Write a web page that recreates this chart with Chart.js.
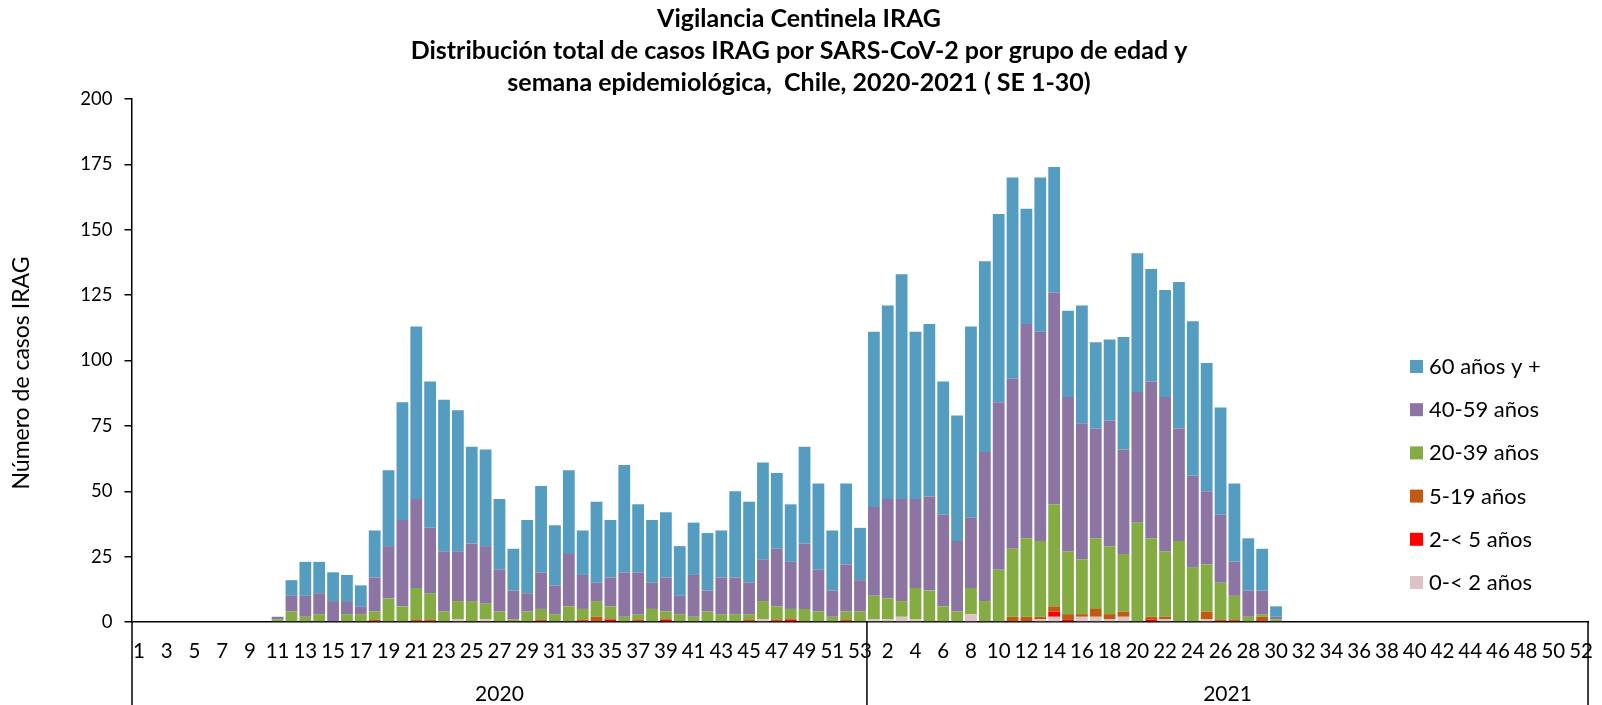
<!DOCTYPE html>
<html>
<head>
<meta charset="utf-8">
<script src="https://cdn.jsdelivr.net/npm/chart.js@4/dist/chart.umd.min.js"></script>
<style>
  body { margin: 0; background: #fff; }
  #wrap { width: 1602px; height: 705px; }
</style>
</head>
<body>
<div id="wrap"><canvas id="c" width="1602" height="705"></canvas></div>
<script>
// epidemiological weeks, 2020 has 53 and 2021 has 52
const weeks2020 = [1,2,3,4,5,6,7,8,9,10,11,12,13,14,15,16,17,18,19,20,21,22,23,24,25,26,27,
  28,29,30,31,32,33,34,35,36,37,38,39,40,41,42,43,44,45,46,47,48,49,50,51,52,53];
const weeks2021 = [1,2,3,4,5,6,7,8,9,10,11,12,13,14,15,16,17,18,19,20,21,22,23,24,25,26,
  27,28,29,30,31,32,33,34,35,36,37,38,39,40,41,42,43,44,45,46,47,48,49,50,51,52];
const years = ['2020', '2021'];

const seriesNames = ['0-< 2 años', '2-< 5 años', '5-19 años', '20-39 años', '40-59 años', '60 años y +'];
const seriesColors = ['#DFC2C3', '#FF0000', '#C05A12', '#85AB43', '#8C74A3', '#559DC0'];

// 2020: weeks 1..53
const a0_2_2020   = [0,0,0,0,0,0,0,0,0,0, 0,0,0,0,0,0,0,0,0,0, 0,0,0,1,0,1,0,0,0,0, 0,0,0,0,0,0,0,0,0,0, 0,0,0,0,0,1,0,0,0,0, 0,0,0];
const a2_5_2020   = [0,0,0,0,0,0,0,0,0,0, 0,0,0,0,0,0,0,0,0,0, 0,0,0,0,0,0,0,0,0,0, 0,0,0,0,1,0,0,0,1,0, 0,0,0,0,0,0,0,1,0,0, 0,0,0];
const a5_19_2020  = [0,0,0,0,0,0,0,0,0,0, 0,0,0,0,0,0,0,1,0,0, 1,1,0,0,0,0,0,0,0,1, 0,0,1,2,0,0,1,0,0,0, 0,0,0,0,1,0,1,0,0,0, 0,1,0];
const a20_39_2020 = [0,0,0,0,0,0,0,0,0,0, 1,4,2,3,0,3,3,3,9,6, 12,10,4,7,8,6,4,1,4,4, 3,6,4,6,5,2,2,5,3,3, 2,4,3,3,2,7,5,4,5,4, 2,3,4];
const a40_59_2020 = [0,0,0,0,0,0,0,0,0,0, 1,6,8,8,8,5,3,13,20,33, 34,25,23,19,22,22,16,11,7,14, 11,20,13,7,11,17,16,10,13,7, 16,8,14,14,12,16,22,18,25,16, 10,18,12];
const a60_2020    = [0,0,0,0,0,0,0,0,0,0, 0,6,13,12,11,10,8,18,29,45, 66,56,58,54,37,37,27,16,28,33, 23,32,17,31,22,41,26,24,25,19, 20,22,18,33,31,37,29,22,37,33, 23,31,20];

// 2021: weeks 1..52
const a0_2_2021   = [1,1,2,1,0,0,0,3,0,0, 0,0,1,2,0,2,2,1,2,0, 0,1,0,0,1,0,0,0,0,0, 0,0,0,0,0,0,0,0,0,0, 0,0,0,0,0,0,0,0,0,0, 0,0];
const a2_5_2021   = [0,0,0,0,0,0,0,0,0,0, 0,0,0,2,1,0,0,0,0,0, 1,0,0,0,0,0,0,0,0,0, 0,0,0,0,0,0,0,0,0,0, 0,0,0,0,0,0,0,0,0,0, 0,0];
const a5_19_2021  = [0,0,0,0,0,0,0,0,0,0, 2,2,1,2,2,1,3,2,2,0, 1,1,0,0,3,1,1,0,2,0, 0,0,0,0,0,0,0,0,0,0, 0,0,0,0,0,0,0,0,0,0, 0,0];
const a20_39_2021 = [9,8,6,12,12,6,4,10,8,20, 26,30,29,39,24,21,27,26,22,38, 30,25,31,21,18,14,9,2,1,1, 0,0,0,0,0,0,0,0,0,0, 0,0,0,0,0,0,0,0,0,0, 0,0];
const a40_59_2021 = [34,38,39,34,36,35,27,27,57,64, 65,82,80,81,59,52,42,48,40,50, 60,59,43,35,28,26,13,10,9,1, 0,0,0,0,0,0,0,0,0,0, 0,0,0,0,0,0,0,0,0,0, 0,0];
const a60_2021    = [67,74,86,64,66,51,48,73,73,72, 77,44,59,48,33,45,33,31,43,53, 43,41,56,59,49,41,30,20,16,4, 0,0,0,0,0,0,0,0,0,0, 0,0,0,0,0,0,0,0,0,0, 0,0];

const yTicks = { min: 0, max: 200, step: 25 };
const yTitle = 'Número de casos IRAG';

const FONT = 'Lato, "Liberation Sans", Arial, sans-serif';

const labels = weeks2020.map(w => '2020-' + w).concat(weeks2021.map(w => '2021-' + w));
const series = [
  a0_2_2020.concat(a0_2_2021),
  a2_5_2020.concat(a2_5_2021),
  a5_19_2020.concat(a5_19_2021),
  a20_39_2020.concat(a20_39_2021),
  a40_59_2020.concat(a40_59_2021),
  a60_2020.concat(a60_2021)
];

// year row, separators, y title and right-hand legend
const extras = {
  id: 'extras',
  afterDraw(chart) {
    const ctx = chart.ctx;
    const a = chart.chartArea;
    const x = chart.scales.x;
    const n = weeks2020.length;
    const sep = (x.getPixelForValue(n - 1) + x.getPixelForValue(n)) / 2;
    ctx.save();
    ctx.strokeStyle = '#000';
    ctx.lineWidth = 1.5;
    [a.left, sep, a.right].forEach(px => {
      ctx.beginPath();
      ctx.moveTo(px, a.bottom);
      ctx.lineTo(px, chart.height);
      ctx.stroke();
    });
    ctx.fillStyle = '#000';
    ctx.font = '21px ' + FONT;
    ctx.textAlign = 'center';
    ctx.textBaseline = 'middle';
    ctx.fillText(years[0], (a.left + sep) / 2, 694);
    ctx.fillText(years[1], (sep + a.right) / 2, 694);

    // y axis title, a little below the middle as in the original
    ctx.save();
    ctx.translate(22, 373);
    ctx.rotate(-Math.PI / 2);
    ctx.font = '23px ' + FONT;
    ctx.fillText(yTitle, 0, 0);
    ctx.restore();

    // legend, top item is the top of the stack
    const ds = chart.data.datasets;
    ctx.font = '22px ' + FONT;
    ctx.textAlign = 'left';
    for (let k = 0; k < ds.length; k++) {
      const d = ds[ds.length - 1 - k];
      const cy = 366 + k * 43.2;
      ctx.fillStyle = d.backgroundColor;
      ctx.fillRect(1410, cy - 6, 13, 13);
      ctx.fillStyle = '#000';
      ctx.fillText(d.label, 1429, cy + 1);
    }
    ctx.restore();
  }
};

new Chart(document.getElementById('c'), {
  type: 'bar',
  data: {
    labels: labels,
    datasets: series.map((vals, i) => ({
      label: seriesNames[i],
      data: vals,
      backgroundColor: seriesColors[i],
      borderWidth: 0,
      categoryPercentage: 1,
      barPercentage: 0.85
    }))
  },
  options: {
    responsive: false,
    devicePixelRatio: 1,
    animation: false,
    layout: { padding: { left: 0, right: 4, top: 0, bottom: 0 } },
    plugins: {
      legend: { display: false },
      tooltip: { enabled: false },
      title: {
        display: true,
        text: [
          'Vigilancia Centinela IRAG',
          'Distribución total de casos IRAG por SARS-CoV-2 por grupo de edad y',
          'semana epidemiológica,  Chile, 2020-2021 ( SE 1-30)'
        ],
        color: '#000',
        font: { family: FONT, size: 25, weight: 'bold', lineHeight: 1.28 },
        padding: { top: 3, bottom: 0 }
      }
    },
    scales: {
      x: {
        stacked: true,
        grid: { display: false },
        border: { display: true, color: '#000', width: 1.5 },
        afterFit: s => { s.height = 83; },
        ticks: {
          autoSkip: false,
          maxRotation: 0,
          minRotation: 0,
          padding: 9,
          color: '#000',
          font: { family: FONT, size: 20.5 },
          callback: function (v, i) {
            const n = weeks2020.length;
            if (i < n) return weeks2020[i] % 2 === 1 ? String(weeks2020[i]) : '';
            const w = weeks2021[i - n];
            return w % 2 === 0 ? String(w) : '';
          }
        }
      },
      y: {
        stacked: true,
        min: yTicks.min,
        max: yTicks.max,
        afterFit: s => { s.width = 132; },
        grid: { display: true, drawOnChartArea: false, drawTicks: true, tickLength: 7.5, color: '#000', lineWidth: 1.5 },
        border: { display: true, color: '#000', width: 1.5 },
        ticks: {
          stepSize: yTicks.step,
          padding: 12,
          color: '#000',
          font: { family: FONT, size: 18.5 }
        }
      }
    }
  },
  plugins: [extras]
});
</script>
</body>
</html>
